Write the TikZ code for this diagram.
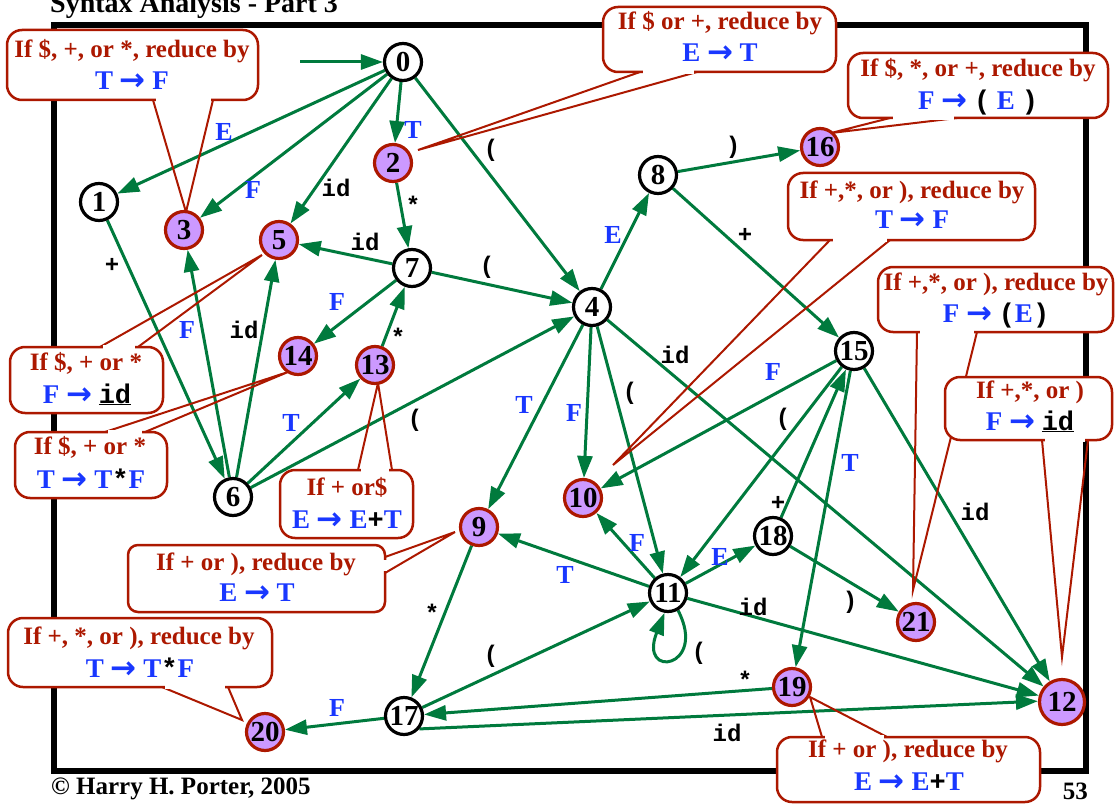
\documentclass[tikz,border=0pt]{standalone}
\usepackage{fontspec}
\setmainfont{Liberation Serif}
\setmonofont{Liberation Mono}
\newfontfamily\arrf{DejaVu Sans}
\usetikzlibrary{arrows.meta,backgrounds}
\definecolor{eg}{RGB}{0,122,61}
\definecolor{cr}{RGB}{172,24,0}
\definecolor{cb}{RGB}{25,55,255}
\definecolor{pf}{RGB}{204,153,255}
\newcommand\fsz[1]{\fontsize{#1}{#1}\selectfont}
\newcommand\mk[1]{{\color{black}\ttfamily\bfseries #1}}
\newcommand\ar{{\arrf\fsz{31}\raisebox{-1pt}{→}}}
\begin{document}
\begin{tikzpicture}[x=1pt,y=-1pt,
 st/.style={circle,draw=black,line width=3.2pt,fill=white,minimum size=37pt,inner sep=0pt,font=\fsz{29}\bfseries},
 rst/.style={st,draw=cr,fill=pf},
 tr/.style={draw=eg,line width=3pt,-{Triangle[length=22pt,width=15pt]}},
 lab/.style={text=cb,font=\fsz{26}\bfseries,inner sep=0pt},
 mlab/.style={text=black,font=\fsz{24}\ttfamily\bfseries,inner sep=0pt},
 tl/.style={draw=cr,line width=2pt,line join=miter},
 cbx/.style={draw=cr,line width=2.5pt,fill=white,rounded corners=15pt},
 er/.style={draw=white,line width=4.5pt},
 rt/.style={text=cr,font=\fsz{25}\bfseries,anchor=base,inner sep=0pt},
 bt/.style={text=cb,font=\fsz{27}\bfseries,anchor=base,inner sep=0pt},
]
\useasboundingbox (0,0) rectangle (1115,805);

% states
\node[st]  (n0)  at (403,62)  {0};
\node[st]  (n1)  at (99,202)  {1};
\node[rst] (n2)  at (393,163) {2};
\node[rst] (n3)  at (184,230) {3};
\node[rst] (n5)  at (279,240) {5};
\node[st]  (n7)  at (412,268) {7};
\node[st]  (n4)  at (592,307) {4};
\node[st]  (n8)  at (658,175) {8};
\node[rst] (n16) at (820,147) {16};
\node[rst] (n14) at (298,356) {14};
\node[rst] (n13) at (375,365) {13};
\node[st]  (n6)  at (233,497) {6};
\node[st]  (n15) at (854,351) {15};
\node[rst] (n10) at (583,498) {10};
\node[rst] (n9)  at (479,527) {9};
\node[st]  (n18) at (773,536) {18};
\node[st]  (n11) at (668,593) {11};
\node[rst] (n21) at (916,622) {21};
\node[rst] (n19) at (792,687) {19};
\node[st]  (n17) at (404,716) {17};
\node[rst] (n20) at (265,732) {20};
\node[rst,minimum size=45pt] (n12) at (1062,702) {12};
\coordinate (st0) at (300,62);

\begin{scope}[on background layer]
% frame
\draw[line width=6pt] (54,25) rectangle (1086,771);
% transitions
\draw[tr] (st0) -- (n0);
\draw[tr] (n0) -- (n1);
\draw[tr] (n0) -- (n3);
\draw[tr] (n0) -- (n5);
\draw[tr] (n0) -- (n2);
\draw[tr] (n0) -- (n4);
\draw[tr] (n2) -- (n7);
\draw[tr] (n7) -- (n5);
\draw[tr] (n7) -- (n4);
\draw[tr] (n7) -- (n14);
\draw[tr] (n13) -- (n7);
\draw[tr] (n1) -- (n6);
\draw[tr] (n6) -- (n3);
\draw[tr] (n6) -- (n5);
\draw[tr] (n6) -- (n13);
\draw[tr] (n6) -- (n4);
\draw[tr] (n4) -- (n8);
\draw[tr] (n8) -- (n16);
\draw[tr] (n8) -- (n15);
\draw[tr] (n4) -- (n9);
\draw[tr] (n4) -- (n10);
\draw[tr] (n4) -- (n11);
\draw[tr] (n4) -- (n12);
\draw[tr] (n15) -- (n10);
\draw[tr] (n15) -- (n11);
\draw[tr] (n18) -- (n15);
\draw[tr] (n15) -- (n19);
\draw[tr] (n15) -- (n12);
\draw[tr] (n11) -- (n9);
\draw[tr] (n11) -- (n10);
\draw[tr] (n11) -- (n18);
\draw[tr] (n11) -- (n12);
\draw[tr] (n11.-60) .. controls (708,668) and (638,680) .. (n11.-100);
\draw[tr] (n18) -- (n21);
\draw[tr] (n9) -- (n17);
\draw[tr] (n17) -- (n11);
\draw[tr] (n19) -- (n17);
\draw[tr] (n17.-40) -- (n12.178);
\draw[tr] (n17) -- (n20);

% callout tails
\draw[tl] (153,100) -- (186,212) -- (213,100);
\draw[tl] (640,72) -- (418,150) -- (697,72);
\draw[tl] (890,118) -- (831,133) -- (957,118);
\draw[tl] (830,240) -- (613,465) -- (890,240);
\draw[tl] (917,332) -- (913,590) -- (977,332);
\draw[tl] (1042,440) -- (1062,657) -- (1088,440);
\draw[tl] (100,347) -- (262,255) -- (138,347);
\draw[tl] (105,432) -- (288,372) -- (145,432);
\draw[tl] (358,470) -- (378,383) -- (392,470);
\draw[tl] (385,557) -- (455,532) -- (385,573);
\draw[tl] (162,687) -- (242,720) -- (228,687);
\draw[tl] (822,737) -- (810,697) -- (887,737);

% callout boxes
\draw[cbx] (7,30) rectangle (258,100);      \draw[er] (155.5,100) -- (210.5,100);
\draw[cbx] (603,7) rectangle (836,72);      \draw[er] (643,72) -- (694,72);
\draw[cbx] (848,53) rectangle (1108,118);   \draw[er] (893,118) -- (954,118);
\draw[cbx] (788,173) rectangle (1035,240);  \draw[er] (833,240) -- (887,240);
\draw[cbx] (878,267) rectangle (1113,332);  \draw[er] (920,332) -- (974,332);
\draw[cbx] (945,377) rectangle (1112,440);  \draw[er] (1045,440) -- (1085,440);
\draw[cbx] (10,347) rectangle (163,413);    \draw[er] (103,347) -- (135,347);
\draw[cbx] (15,432) rectangle (167,498);    \draw[er] (108,432) -- (142,432);
\draw[cbx] (280,470) rectangle (413,538);   \draw[er] (361,470) -- (389,470);
\draw[cbx,rounded corners=10pt] (128,545) rectangle (385,612); \draw[er] (385,559.5) -- (385,570.5);
\draw[cbx] (8,618) rectangle (272,687);     \draw[er] (165,687) -- (225,687);
\draw[cbx] (777,737) rectangle (1040,802);  \draw[er] (825,737) -- (884,737);
\end{scope}

% transition labels
\node[lab]  (l01)  at (224,132) {E};
\node[lab]  (l03)  at (253,190) {F};
\node[mlab] (l05)  at (336,188) {id};
\node[lab]  (l02)  at (413,130) {T};
\node[mlab] (l04)  at (491,150) {(};
\node[mlab] (l27)  at (413,205) {*};
\node[mlab] (l75)  at (365,242) {id};
\node[mlab] (l74)  at (487,267) {(};
\node[lab]  (l714) at (337,302) {F};
\node[mlab] (l137) at (398,337) {*};
\node[mlab] (l16)  at (112,265) {+};
\node[lab]  (l63)  at (187,330) {F};
\node[mlab] (l65)  at (244,330) {id};
\node[lab]  (l613) at (291,423) {T};
\node[mlab] (l64)  at (415,420) {(};
\node[lab]  (l48)  at (613,235) {E};
\node[mlab] (l816) at (733,147) {)};
\node[mlab] (l815) at (745,235) {+};
\node[mlab] (l412) at (675,355) {id};
\node[lab]  (l49)  at (524,405) {T};
\node[lab]  (l410) at (574,413) {F};
\node[mlab] (l411) at (630,393) {(};
\node[lab]  (l1510) at (773,372) {F};
\node[mlab] (l1511) at (783,419) {(};
\node[mlab] (l1815) at (778,503) {+};
\node[lab]  (l1519) at (850,463) {T};
\node[mlab] (l1512) at (975,512) {id};
\node[mlab] (l1821) at (850,602) {)};
\node[lab]  (l119)  at (565,575) {T};
\node[lab]  (l1110) at (637,543) {F};
\node[lab]  (l1118) at (720,557) {E};
\node[mlab] (l1112) at (753,607) {id};
\node[mlab] (l1111) at (699,653) {(};
\node[mlab] (l917)  at (432,613) {*};
\node[mlab] (l1711) at (491,656) {(};
\node[mlab] (l1917) at (745,680) {*};
\node[mlab] (l1712) at (727,733) {id};
\node[lab]  (l1720) at (337,708) {F};

% callout texts
\node[rt] (c1a)  at (132,58)  {If \$, +, or *, reduce by};
\node[bt] (c1b)  at (132,90)  {T \ar{} F};
\node[rt] (c2a)  at (720,30)  {If \$ or +, reduce by};
\node[bt] (c2b)  at (720,62)  {E \ar{} T};
\node[rt] (c3a)  at (978,77)  {If \$, *, or +, reduce by};
\node[bt] (c3b)  at (978,110) {F \ar{} \mk{(} E \mk{)}};
\node[rt] (c4a)  at (912,198) {If +,*, or ), reduce by};
\node[bt] (c4b)  at (912,228) {T \ar{} F};
\node[rt] (c5a)  at (996,290) {If +,*, or ), reduce by};
\node[bt] (c5b)  at (996,322) {F \ar{} \mk{(}E\mk{)}};
\node[rt] (c6a)  at (1030,398) {If +,*, or )};
\node[bt] (c6b)  at (1030,430) {F \ar{} \mk{\underline{id}}};
\node[rt] (c7a)  at (86,370)  {If \$, + or *};
\node[bt] (c7b)  at (87,403)  {F \ar{} \mk{\underline{id}}};
\node[rt] (c8a)  at (90,454)  {If \$, + or *};
\node[bt] (c8b)  at (91,488)  {T \ar{} T\mk{*}F};
\node[rt] (c9a)  at (347,495) {If + or\$};
\node[bt] (c9b)  at (347,528) {E \ar{} E\mk{+}T};
\node[rt] (c10a) at (256,570) {If + or ), reduce by};
\node[bt] (c10b) at (257,601) {E \ar{} T};
\node[rt] (c11a) at (139,644) {If +, *, or ), reduce by};
\node[bt] (c11b) at (140,677) {T \ar{} T\mk{*}F};
\node[rt] (c12a) at (908,757) {If + or ), reduce by};
\node[bt] (c12b) at (909,790) {E \ar{} E\mk{+}T};

% titles
\node[anchor=base west,font=\fsz{28}\bfseries,inner sep=0pt] (title) at (50,13) {Syntax Analysis - Part 3};
\node[anchor=base west,font=\fsz{25}\bfseries,inner sep=0pt] (copy) at (51,794) {© Harry H. Porter, 2005};
\node[anchor=base east,font=\fsz{25}\bfseries,inner sep=0pt] (page) at (1088,799) {53};
\end{tikzpicture}
\end{document}
